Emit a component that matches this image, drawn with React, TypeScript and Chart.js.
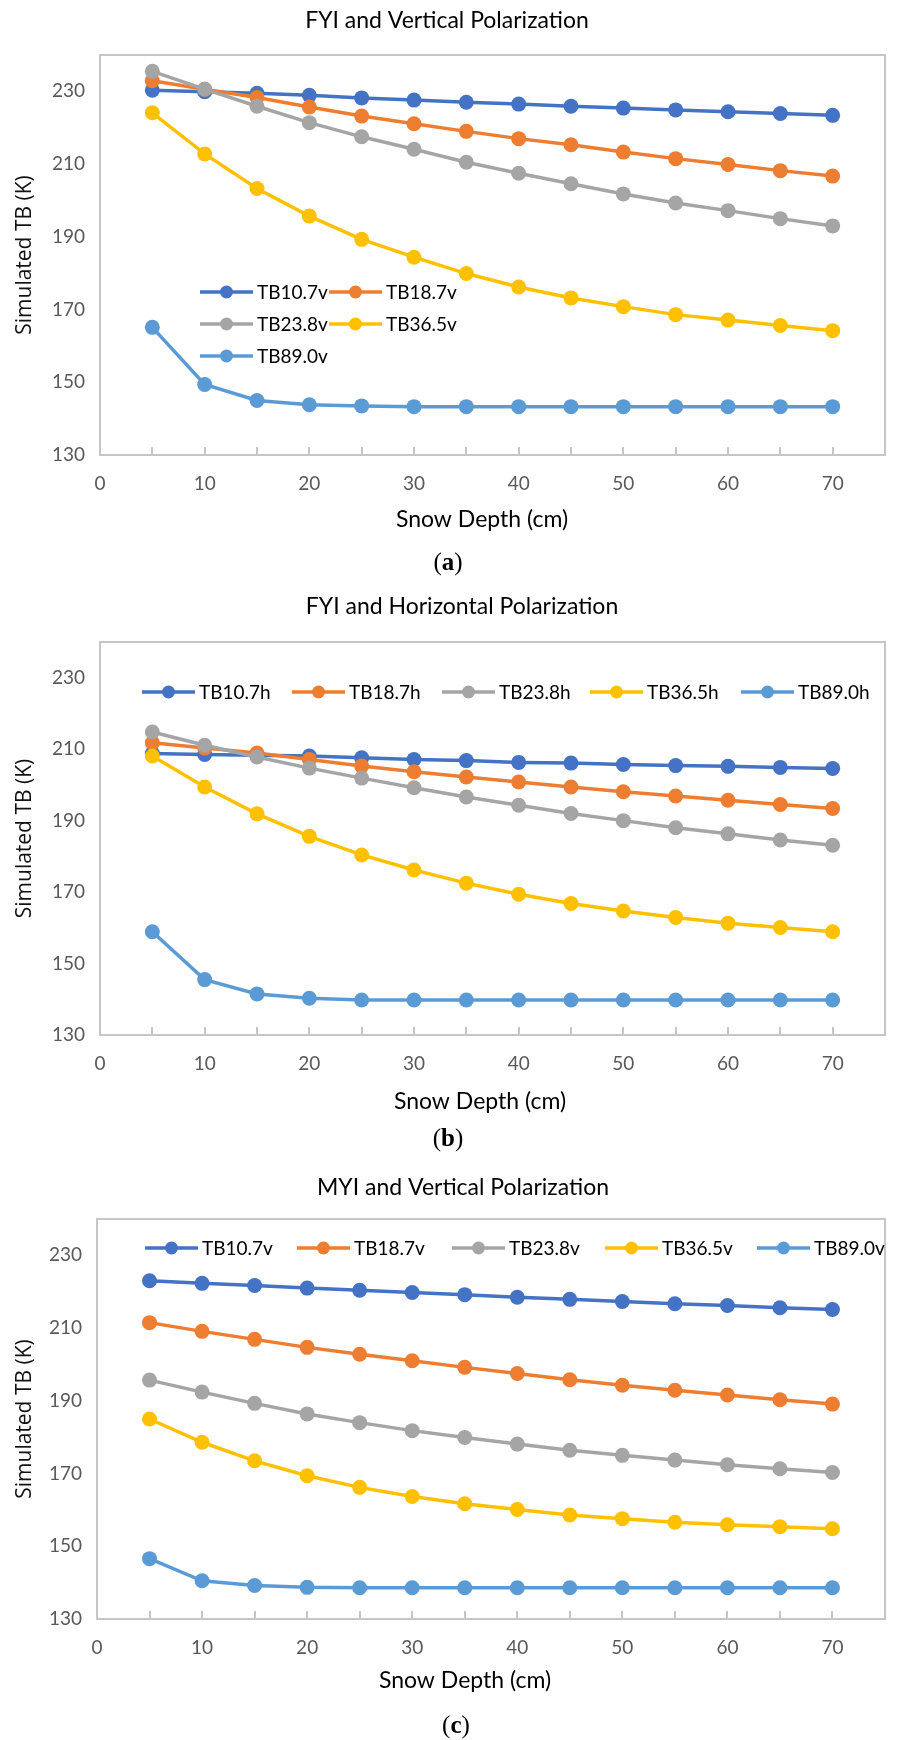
import React, { useEffect, useRef } from 'react';
import { Chart, registerables } from 'chart.js';

Chart.register(...registerables);

// ---------- data ----------
const depths = [5, 10, 15, 20, 25, 30, 35, 40, 45, 50, 55, 60, 65, 70];
const xTickValues = [0, 5, 10, 15, 20, 25, 30, 35, 40, 45, 50, 55, 60, 65, 70, 75];
const xTickLabels = [0, 10, 20, 30, 40, 50, 60, 70];
const yTickLabels = [130, 150, 170, 190, 210, 230];
const seriesColors = ['#4472C4', '#ED7D31', '#A5A5A5', '#FFC000', '#5B9BD5'];

const vLabels = ['TB10.7v', 'TB18.7v', 'TB23.8v', 'TB36.5v', 'TB89.0v'];
const hLabels = ['TB10.7h', 'TB18.7h', 'TB23.8h', 'TB36.5h', 'TB89.0h'];

// (a) FYI, vertical polarization
const fyiV107 = [230.3, 229.9, 229.5, 228.9, 228.2, 227.6, 227.0, 226.5, 225.9, 225.4, 224.9, 224.4, 223.9, 223.4];
const fyiV187 = [232.9, 230.6, 228.3, 225.7, 223.2, 221.1, 219.0, 217.0, 215.3, 213.3, 211.5, 209.9, 208.2, 206.7];
const fyiV238 = [235.5, 230.6, 225.9, 221.4, 217.5, 214.1, 210.5, 207.5, 204.6, 201.8, 199.3, 197.2, 195.0, 193.0];
const fyiV365 = [224.1, 212.8, 203.3, 195.7, 189.3, 184.4, 179.9, 176.2, 173.2, 170.8, 168.6, 167.1, 165.6, 164.2];
const fyiV890 = [165.1, 149.4, 145.0, 143.8, 143.5, 143.3, 143.3, 143.3, 143.3, 143.3, 143.3, 143.3, 143.3, 143.3];

// (b) FYI, horizontal polarization
const fyiH107 = [208.8, 208.5, 208.3, 208.1, 207.6, 207.1, 206.8, 206.3, 206.1, 205.7, 205.4, 205.2, 204.9, 204.6];
const fyiH187 = [211.8, 210.3, 208.9, 207.1, 205.3, 203.7, 202.2, 200.8, 199.4, 198.1, 196.9, 195.7, 194.5, 193.4];
const fyiH238 = [214.8, 211.1, 207.8, 204.7, 201.9, 199.2, 196.6, 194.3, 192.0, 190.0, 188.0, 186.3, 184.6, 183.1];
const fyiH365 = [208.1, 199.4, 191.9, 185.6, 180.4, 176.2, 172.5, 169.4, 166.8, 164.7, 162.9, 161.3, 160.1, 158.9];
const fyiH890 = [158.9, 145.5, 141.5, 140.3, 139.8, 139.8, 139.8, 139.8, 139.8, 139.8, 139.8, 139.8, 139.8, 139.8];

// (c) MYI, vertical polarization
const myiV107 = [223.0, 222.3, 221.7, 221.0, 220.4, 219.8, 219.2, 218.5, 217.9, 217.3, 216.7, 216.2, 215.6, 215.1];
const myiV187 = [211.5, 209.1, 206.9, 204.7, 202.8, 201.0, 199.2, 197.5, 195.8, 194.3, 192.9, 191.6, 190.3, 189.1];
const myiV238 = [195.7, 192.4, 189.3, 186.4, 184.0, 181.8, 179.9, 178.1, 176.4, 175.0, 173.7, 172.4, 171.3, 170.3];
const myiV365 = [185.0, 178.6, 173.5, 169.4, 166.2, 163.7, 161.7, 160.1, 158.6, 157.6, 156.6, 155.9, 155.4, 154.8];
const myiV890 = [146.6, 140.5, 139.2, 138.7, 138.6, 138.6, 138.6, 138.6, 138.6, 138.6, 138.6, 138.6, 138.6, 138.6];

// ---------- layout ----------
const CANVAS_W = 910;
const PANEL_H = 580;
const FONT = 'Lato, "Open Sans", sans-serif';

type Panel = {
  key: string;
  offsetTop: number;
  title: string;
  titleX: number;
  titleY: number;
  xTitle: string;
  xTitleX: number;
  xTitleY: number;
  areaTop: number;
  areaBottom: number;
  areaLeft: number;
  padRight: number;
  labels: string[];
  series: number[][];
  legendPos: number[][];
  letter: string;
  capX: number;
  capY: number;
};

const panels: Panel[] = [
  {
    key: 'a', offsetTop: 0,
    title: 'FYI and Vertical Polarization', titleX: 447, titleY: 21,
    xTitle: 'Snow Depth (cm)', xTitleX: 482, xTitleY: 520,
    areaTop: 55, areaBottom: 455, areaLeft: 100, padRight: 10,
    labels: vLabels, series: [fyiV107, fyiV187, fyiV238, fyiV365, fyiV890],
    legendPos: [[200, 292], [329, 292], [200, 324], [329, 324], [200, 356]],
    letter: 'a', capX: 448, capY: 562,
  },
  {
    key: 'b', offsetTop: 580,
    title: 'FYI and Horizontal Polarization', titleX: 462, titleY: 27,
    xTitle: 'Snow Depth (cm)', xTitleX: 480, xTitleY: 522,
    areaTop: 62, areaBottom: 455, areaLeft: 100, padRight: 10,
    labels: hLabels, series: [fyiH107, fyiH187, fyiH238, fyiH365, fyiH890],
    legendPos: [[142, 112], [292, 112], [442, 112], [590, 112], [741, 112]],
    letter: 'b', capX: 448, capY: 558,
  },
  {
    key: 'c', offsetTop: 1160,
    title: 'MYI and Vertical Polarization', titleX: 463, titleY: 28,
    xTitle: 'Snow Depth (cm)', xTitleX: 465, xTitleY: 521,
    areaTop: 59, areaBottom: 459, areaLeft: 97, padRight: 11,
    labels: vLabels, series: [myiV107, myiV187, myiV238, myiV365, myiV890],
    legendPos: [[145, 88], [297, 88], [452, 88], [605, 88], [757, 88]],
    letter: 'c', capX: 456, capY: 565,
  },
];

function makePlugins(p: Panel) {
  const frame = {
    id: 'frame_' + p.key,
    beforeDatasetsDraw(chart: any) {
      const { ctx, chartArea: a } = chart;
      ctx.save();
      ctx.strokeStyle = '#c6c6c6';
      ctx.lineWidth = 2;
      ctx.strokeRect(a.left, a.top, a.right - a.left, a.bottom - a.top);
      ctx.restore();
    },
  };
  const texts = {
    id: 'texts_' + p.key,
    afterDraw(chart: any) {
      const { ctx } = chart;
      ctx.save();
      ctx.fillStyle = '#000';
      ctx.textAlign = 'center';
      ctx.textBaseline = 'middle';
      ctx.font = `23px ${FONT}`;
      ctx.fillText(p.title, p.titleX, p.titleY);
      ctx.fillText(p.xTitle, p.xTitleX, p.xTitleY);
      // legend
      ctx.textAlign = 'left';
      ctx.font = `19px ${FONT}`;
      p.labels.forEach((lab, i) => {
        const [lx, ly] = p.legendPos[i];
        const c = seriesColors[i];
        ctx.strokeStyle = c;
        ctx.lineWidth = 3.5;
        ctx.beginPath();
        ctx.moveTo(lx, ly);
        ctx.lineTo(lx + 53, ly);
        ctx.stroke();
        ctx.fillStyle = c;
        ctx.beginPath();
        ctx.arc(lx + 26.5, ly, 6.5, 0, Math.PI * 2);
        ctx.fill();
        ctx.fillStyle = '#000';
        ctx.fillText(lab, lx + 57, ly + 1);
      });
      ctx.restore();
    },
  };
  return [frame, texts];
}

function buildConfig(p: Panel): any {
  const xLabelSet = new Set(xTickLabels);
  return {
    type: 'line',
    data: {
      datasets: p.series.map((vals, i) => ({
        label: p.labels[i],
        data: depths.map((d, j) => ({ x: d, y: vals[j] })),
        borderColor: seriesColors[i],
        backgroundColor: seriesColors[i],
        pointBackgroundColor: seriesColors[i],
        pointBorderColor: seriesColors[i],
        borderWidth: 3.5,
        pointRadius: 7.5,
        pointBorderWidth: 0,
        tension: 0,
        order: p.series.length - 1 - i,
      })),
    },
    options: {
      responsive: false,
      animation: false,
      events: [],
      layout: { padding: { top: p.areaTop, right: p.padRight, bottom: 0, left: 0 } },
      plugins: {
        legend: { display: false },
        title: { display: false },
        tooltip: { enabled: false },
      },
      scales: {
        x: {
          type: 'linear',
          min: 0,
          max: 75,
          afterBuildTicks: (axis: any) => {
            axis.ticks = xTickValues.map((v) => ({ value: v }));
          },
          afterFit: (axis: any) => {
            axis.height = PANEL_H - p.areaBottom;
          },
          ticks: {
            autoSkip: false,
            maxRotation: 0,
            padding: 25,
            color: '#595959',
            font: { family: FONT, size: 19 },
            callback: (v: any) => (xLabelSet.has(v) ? String(v) : ''),
          },
          grid: {
            drawOnChartArea: false,
            drawTicks: true,
            tickLength: -8,
            color: '#c6c6c6',
            lineWidth: 2,
          },
          border: { display: false },
        },
        y: {
          type: 'linear',
          min: 130,
          max: 240,
          afterBuildTicks: (axis: any) => {
            axis.ticks = yTickLabels.map((v) => ({ value: v }));
          },
          afterFit: (axis: any) => {
            axis.width = p.areaLeft;
          },
          ticks: {
            padding: 15,
            color: '#595959',
            font: { family: FONT, size: 19 },
          },
          grid: { display: false, drawTicks: false },
          border: { display: false },
          title: {
            display: true,
            text: 'Simulated TB (K)',
            color: '#111',
            font: { family: '"Open Sans", "Noto Sans", sans-serif', size: 21 },
            padding: { top: 12, bottom: 0 },
          },
        },
      },
    },
    plugins: makePlugins(p),
  };
}

function PanelChart({ p }: { p: Panel }) {
  const ref = useRef<HTMLCanvasElement>(null);
  useEffect(() => {
    if (!ref.current) return;
    const chart = new Chart(ref.current, buildConfig(p));
    return () => chart.destroy();
  }, [p]);
  return (
    <div style={{ position: 'absolute', left: 0, top: p.offsetTop, width: CANVAS_W, height: PANEL_H }}>
      <canvas
        ref={ref}
        width={CANVAS_W}
        height={PANEL_H}
        style={{ display: 'block', width: CANVAS_W, height: PANEL_H }}
      />
      <div
        style={{
          position: 'absolute',
          left: p.capX - 50,
          width: 100,
          top: p.capY - 16,
          height: 32,
          lineHeight: '32px',
          textAlign: 'center',
          fontFamily: '"Liberation Serif", "DejaVu Serif", serif',
          fontSize: 25,
          color: '#000',
        }}
      >
        (<b>{p.letter}</b>)
      </div>
    </div>
  );
}

export default function App() {
  return (
    <div
      style={{
        position: 'absolute',
        left: 0,
        top: 0,
        width: 897,
        height: 1740,
        overflow: 'hidden',
        background: '#fff',
      }}
    >
      {panels.map((p) => (
        <PanelChart key={p.key} p={p} />
      ))}
    </div>
  );
}
